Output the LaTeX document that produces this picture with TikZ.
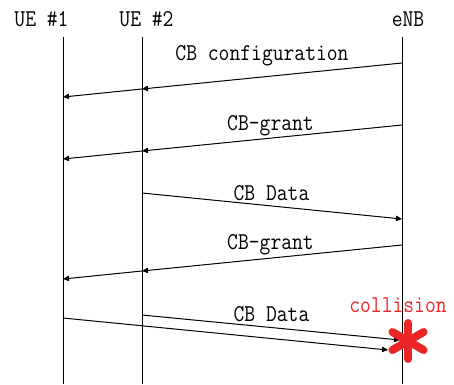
\documentclass[tikz,border=0pt]{standalone}
\usepackage{graphicx}
\usetikzlibrary{arrows.meta}
\definecolor{hitred}{RGB}{236,38,38}
% tall, narrow monospaced lettering
\newcommand{\tallmono}[1]{\scalebox{1}[1.15]{#1}}
\begin{document}
\begin{tikzpicture}[x=1pt,y=-1pt,
  lbl/.style={font=\fontsize{21}{23}\ttfamily, inner sep=0pt, anchor=base},
  life/.style={line width=1pt},
  msg/.style={line width=1pt, -{Triangle[length=6pt,width=5.5pt]}},
  hit/.style={hitred, line width=8pt, line cap=round}]
\useasboundingbox (0,0) rectangle (454,384);

% participants
\node[lbl] (ue1) at (41.5,26) {\tallmono{UE \#1}};
\node[lbl] (ue2) at (146.5,26) {\tallmono{UE \#2}};
\node[lbl] (enb) at (408,26) {\tallmono{eNB}};

% lifelines
\coordinate (l1t) at (63,37);  \coordinate (l1b) at (63,384);
\coordinate (l2t) at (142,37); \coordinate (l2b) at (142,384);
\coordinate (l3t) at (402,37); \coordinate (l3b) at (402,384);
\draw[life] (l1t) -- (l1b);
\draw[life] (l2t) -- (l2b);
\draw[life] (l3t) -- (l3b);

% CB configuration
\coordinate (a0) at (402,63); \coordinate (a1) at (142,89); \coordinate (a2) at (63,97);
\draw[msg] (a0) -- (a1);
\draw[msg] (a1) -- (a2);
\node[lbl] (t1) at (262,60) {\tallmono{CB configuration}};

% CB-grant
\coordinate (b0) at (402,125); \coordinate (b1) at (142,151); \coordinate (b2) at (63,159);
\draw[msg] (b0) -- (b1);
\draw[msg] (b1) -- (b2);
\node[lbl] (t2) at (270.5,130) {\tallmono{CB-grant}};

% CB Data from UE #2
\coordinate (c0) at (142,193); \coordinate (c1) at (402,219);
\draw[msg] (c0) -- (c1);
\node[lbl] (t3) at (271.5,200.5) {\tallmono{CB Data}};

% second CB-grant
\coordinate (d0) at (402,245); \coordinate (d1) at (142,271); \coordinate (d2) at (63,279);
\draw[msg] (d0) -- (d1);
\draw[msg] (d1) -- (d2);
\node[lbl] (t4) at (270.5,249.5) {\tallmono{CB-grant}};

% simultaneous CB Data from both UEs
\coordinate (e0) at (142,315); \coordinate (e1) at (400,340);
\coordinate (f0) at (63,318);  \coordinate (f1) at (388,350);
\draw[msg] (e0) -- (e1);
\draw[msg] (f0) -- (f1);
\node[lbl] (t5) at (271.5,321.5) {\tallmono{CB Data}};

% collision marker
\node[lbl, text=hitred] (col) at (398,312) {\tallmono{collision}};
\coordinate (x) at (408,341);
\foreach \a in {90,30,-30,-90,150,210}
  \draw[hit] (x) -- ++(\a:-18);
\end{tikzpicture}
\end{document}
